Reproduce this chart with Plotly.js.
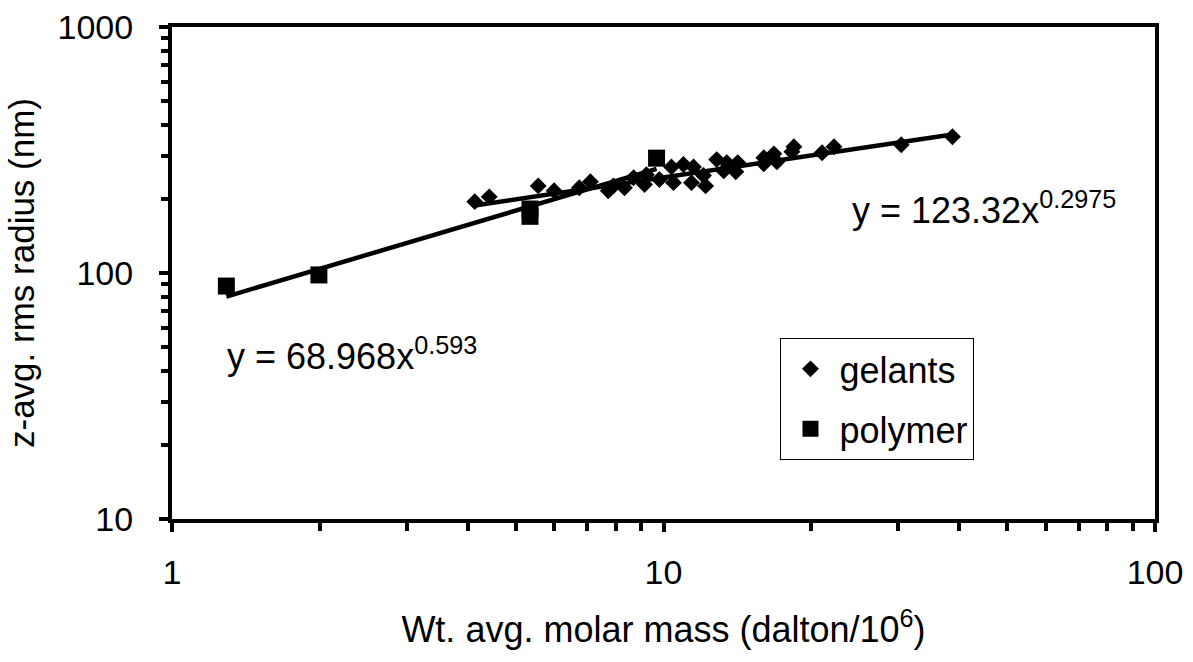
<!DOCTYPE html>
<html>
<head>
<meta charset="utf-8">
<script src="https://cdn.plot.ly/plotly-3.0.1.min.js"></script>
<style>html,body{margin:0;padding:0;background:#fff;}#chart{width:1193px;height:662px;}</style>
</head>
<body>
<div id="chart"></div>
<script>
// Gelants (diamonds)
const gelantsX = [4.13, 4.42, 5.56, 5.99, 6.74, 7.10, 7.72, 7.91, 8.33, 8.69, 9.15, 9.23, 9.81, 10.38, 10.48, 10.98, 11.40, 11.51, 12.06, 12.18, 12.83, 13.26, 13.45, 14.03, 14.16, 16.00, 16.00, 16.77, 17.01, 18.25, 18.42, 21.02, 22.23, 30.46, 38.71];
const gelantsY = [195, 204, 226, 216, 222, 235, 216, 226, 222, 244, 229, 251, 240, 270, 233, 276, 233, 270, 249, 226, 289, 260, 281, 258, 281, 294, 278, 305, 283, 311, 326, 308, 326, 332, 358];
// Polymer (squares)
const polymerX = [1.29, 1.99, 5.35, 5.35, 9.68];
const polymerY = [88.5, 98.2, 182, 170, 293];
// Power-law fits shown on the chart
const gelFit = {a: 123.32, b: 0.2975};
const polyFit = {a: 68.968, b: 0.593};
const xTicks = [1, 10, 100];
const yTicks = [10, 100, 1000];

function fitLine(xs, f) {
  const lo = Math.min(...xs), hi = Math.max(...xs);
  return {x: [lo, hi], y: [f.a * Math.pow(lo, f.b), f.a * Math.pow(hi, f.b)]};
}
function minorVals(decades) {
  const v = [];
  decades.forEach(d => { for (let k = 2; k <= 9; k++) v.push(k * d); });
  return v;
}
const gl = fitLine(gelantsX, gelFit);
const pl = fitLine(polymerX, polyFit);
const FONT = 'Liberation Sans, Arial, sans-serif';

const traces = [
  {x: pl.x, y: pl.y, mode: 'lines', line: {color: '#000', width: 4.5}, showlegend: false, hoverinfo: 'skip'},
  {x: gl.x, y: gl.y, mode: 'lines', line: {color: '#000', width: 4.5}, showlegend: false, hoverinfo: 'skip'},
  {x: gelantsX, y: gelantsY, mode: 'markers', name: 'gelants', legendgroup: 'g',
   marker: {symbol: 'diamond', size: 13, color: '#000'}},
  {x: polymerX, y: polymerY, mode: 'markers', name: 'polymer', legendgroup: 'p',
   marker: {symbol: 'square', size: 17, color: '#000'}}
];

const axisCommon = {
  type: 'log', showgrid: false, zeroline: false,
  showline: true, linecolor: '#000', linewidth: 4, mirror: true,
  ticks: 'outside', ticklen: 9, tickwidth: 4, tickcolor: '#000',
  tickmode: 'array', tickfont: {family: FONT, size: 34, color: '#000'},
};

const layout = {
  width: 1193, height: 662,
  margin: {l: 172, r: 38, t: 27, b: 143},
  paper_bgcolor: '#fff', plot_bgcolor: '#fff',
  font: {family: FONT, size: 34, color: '#000'},
  xaxis: Object.assign({}, axisCommon, {
    range: [0, 2], tickvals: xTicks, ticktext: xTicks.map(String), ticklabelstandoff: 11,
    minor: {tickmode: 'array', tickvals: minorVals([1, 10]), ticks: 'outside', ticklen: 8, tickwidth: 4, tickcolor: '#000', showgrid: false},
    title: {text: 'Wt. avg. molar mass (dalton/10<sup>6</sup>)', font: {family: FONT, size: 36, color: '#000'}, standoff: 28}
  }),
  yaxis: Object.assign({}, axisCommon, {
    range: [1, 3], tickvals: yTicks, ticktext: yTicks.map(String), ticklabelstandoff: 19,
    minor: {tickmode: 'array', tickvals: minorVals([10, 100]), ticks: 'outside', ticklen: 7, tickwidth: 4, tickcolor: '#000', showgrid: false},
    title: {text: 'z-avg. rms radius (nm)', font: {family: FONT, size: 35, color: '#000'}, standoff: 13}
  }),
  showlegend: true,
  legend: {x: 0.619, y: 0.368, xanchor: 'left', yanchor: 'top', bgcolor: '#fff',
    bordercolor: '#000', borderwidth: 1, font: {family: FONT, size: 36, color: '#000'},
    tracegroupgap: 10, itemwidth: 48},
  annotations: [
    {xref: 'paper', yref: 'paper', x: 0.690, y: 0.632, xanchor: 'left', yanchor: 'middle', showarrow: false,
     text: 'y = 123.32x<sup>0.2975</sup>', font: {family: FONT, size: 36, color: '#000'}},
    {xref: 'paper', yref: 'paper', x: 0.054, y: 0.335, xanchor: 'left', yanchor: 'middle', showarrow: false,
     text: 'y = 68.968x<sup>0.593</sup>', font: {family: FONT, size: 36, color: '#000'}}
  ]
};

Plotly.newPlot('chart', traces, layout, {displayModeBar: false, staticPlot: true});
</script>
</body>
</html>
